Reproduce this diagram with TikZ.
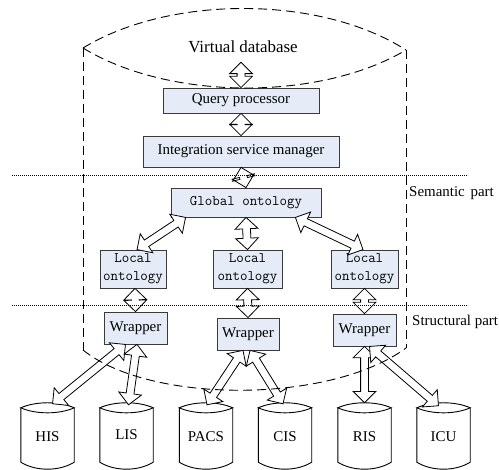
\documentclass[tikz,border=0pt]{standalone}
\usepackage{fontspec}
\setmainfont{Liberation Serif}
\usetikzlibrary{shapes.arrows,calc}
\definecolor{boxfill}{HTML}{E5ECF7}
\definecolor{boxline}{HTML}{3A3A3A}
\tikzset{
 box/.style={draw=boxline, fill=boxfill, line width=0.8bp, inner sep=0pt, font=\fontsize{15}{17}\selectfont},
 monobox/.style={box, font=\ttfamily\fontsize{14.6}{18}\selectfont, align=center},
 barrow/.style={double arrow, draw=black, fill=white, line width=0.8bp, inner xsep=0pt, inner ysep=3.5bp, double arrow head extend=7.5bp, double arrow tip angle=90},
 bigdash/.style={dash pattern=on 9bp off 5bp, line width=0.9bp},
 sepline/.style={dash pattern=on 1.2bp off 0.8bp, line width=0.55bp},
 dblabel/.style={font=\fontsize{15}{17}\selectfont, minimum width=53bp, minimum height=67bp, inner sep=0pt},
 lbl/.style={font=\fontsize{15}{17}\selectfont, inner sep=0pt, anchor=west},
}
\newcommand\blockarrow[3]{\path let \p1=#2, \p2=#3, \n1={atan2(\y2-\y1,\x2-\x1)}, \n2={veclen(\x2-\x1,\y2-\y1)} in node[barrow, rotate=\n1, minimum height=\n2] (#1) at ($(\p1)!0.5!(\p2)$) {};}
\newcommand\dbshape[1]{%
 \draw[line width=0.9bp, fill=white] ($(#1.north west)+(0,5)$) -- ($(#1.south west)+(0,-8)$) .. controls ($(#1.south west)+(15,1.3)$) and ($(#1.south east)+(-15,1.3)$) .. ($(#1.south east)+(0,-8)$) -- ($(#1.north east)+(0,5)$);
 \draw[line width=0.9bp] ($(#1.north west)+(0,5)$) .. controls ($(#1.north west)+(15,-1.7)$) and ($(#1.north east)+(-15,-1.7)$) .. ($(#1.north east)+(0,5)$) .. controls ($(#1.north east)+(-15,11.7)$) and ($(#1.north west)+(15,11.7)$) .. cycle;
}
\begin{document}
\begin{tikzpicture}[x=1bp,y=-1bp]
\useasboundingbox (0,0) rectangle (499,470);
% text and boxes
\node[font=\fontsize{17}{20}\selectfont, inner sep=0pt] (vdb) at (243,47) {Virtual database};
\node[box, minimum width=156bp, minimum height=25bp] (qp) at (241,100.5) {Query processor};
\node[box, minimum width=196bp, minimum height=31bp] (ism) at (241,151.5) {Integration service manager};
\node[monobox, minimum width=150bp, minimum height=29bp] (glob) at (246,202.5) {Global ontology};
\node[monobox, minimum width=66bp, minimum height=38bp] (lo1) at (133,269) {Local\\ontology};
\node[monobox, minimum width=69bp, minimum height=38bp] (lo2) at (247.5,269) {Local\\ontology};
\node[monobox, minimum width=67bp, minimum height=38bp] (lo3) at (364.5,269) {Local\\ontology};
\node[box, minimum width=63bp, minimum height=32bp] (wl) at (135.5,328) {Wrapper};
\node[box, minimum width=62bp, minimum height=32bp] (wm) at (248,334) {Wrapper};
\node[box, minimum width=63bp, minimum height=32bp] (wr) at (364.5,330) {Wrapper};
\node[lbl] (sem) at (409,193) {Semantic\hspace{2bp} part};
\node[lbl] (str) at (412,322) {Structural part};
% databases
\node[dblabel] (his) at (47.5,436.5) {};
\node[dblabel] (lis) at (126.5,436.5) {};
\node[dblabel] (pacs) at (206,436.5) {};
\node[dblabel] (cis) at (285,436.5) {};
\node[dblabel] (ris) at (364.5,436.5) {};
\node[dblabel] (icu) at (443.5,436.5) {};
\dbshape{his}\dbshape{lis}\dbshape{pacs}\dbshape{cis}\dbshape{ris}\dbshape{icu}
\node[font=\fontsize{15}{17}\selectfont] (this) at (his.center) {HIS};
\node[font=\fontsize{15}{17}\selectfont] (tlis) at ([yshift=2bp]lis.center) {LIS};
\node[font=\fontsize{15}{17}\selectfont] (tpacs) at (pacs.center) {PACS};
\node[font=\fontsize{15}{17}\selectfont] (tcis) at (cis.center) {CIS};
\node[font=\fontsize{15}{17}\selectfont] (tris) at (ris.center) {RIS};
\node[font=\fontsize{15}{17}\selectfont] (ticu) at (icu.center) {ICU};
% block arrows
\blockarrow{a1}{($(vdb.south)+(-2,9)$)}{(qp.north)}
\blockarrow{a2}{(qp.south)}{(ism.north)}
\blockarrow{a3}{(ism.south)}{(glob.north)}
\blockarrow{a4}{($(glob.south west)+(15,0)$)}{($(lo1.north)+(4,0)$)}
\blockarrow{a5}{(glob.south)}{(lo2.north)}
\blockarrow{a6}{($(glob.south east)+(-26,0)$)}{($(lo3.north)+(-1.5,0)$)}
\blockarrow{a7}{($(lo1.south)+(2,0)$)}{(wl.north)}
\blockarrow{a8}{(lo2.south)}{(wm.north)}
\blockarrow{a9}{(lo3.south)}{(wr.north)}
\blockarrow{a10}{($(wl.south)+(-10,0)$)}{($(his.north)+(5,1)$)}
\blockarrow{a11}{($(wl.south)+(1.5,0)$)}{($(lis.north)+(2,2)$)}
\blockarrow{a12}{($(wm.south)+(-5,0)$)}{($(pacs.north)+(1,2)$)}
\blockarrow{a13}{($(wm.south)+(2,0)$)}{($(cis.north)+(-2,1)$)}
\blockarrow{a14}{(wr.south)}{(ris.north)}
\blockarrow{a15}{($(wr.south)+(5,0)$)}{($(icu.north)+(-5,3)$)}
% big dashed cylinder
\draw[bigdash] (83,48) .. controls (170,-5) and (320,-5) .. (406,50);
\draw[bigdash] (83,48) .. controls (170,101) and (320,101) .. (406,50);
\draw[bigdash] (83,48) -- (83,350);
\draw[bigdash] (406,50) -- (406,348);
\draw[bigdash] (83,350) .. controls (150,404) and (330,404) .. (406,348);
% separators
\draw[sepline] (12,175) -- (468,175);
\draw[sepline] (12,305) -- (468,305);
\end{tikzpicture}
\end{document}
